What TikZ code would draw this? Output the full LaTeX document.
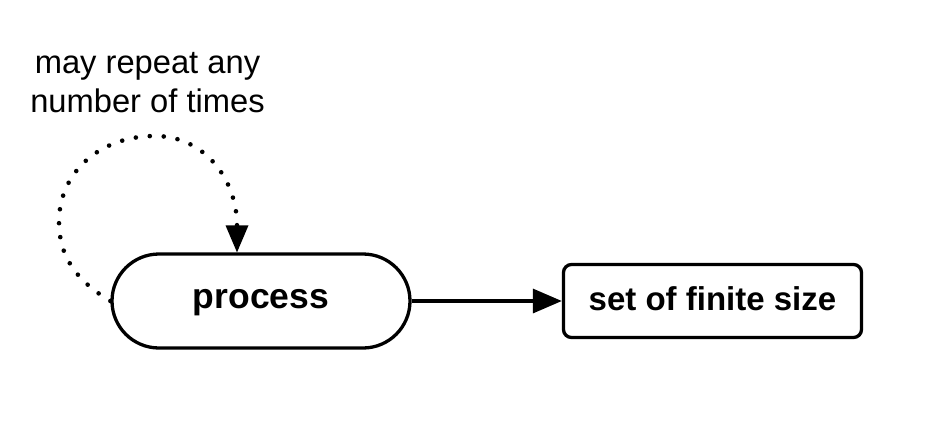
\documentclass[tikz,border=0pt]{standalone}
\usepackage{fontspec}
\setmainfont{Liberation Sans}
\usetikzlibrary{arrows.meta}
\tikzset{
  stadium/.style={draw, line width=3.3pt, rounded corners=47pt, minimum width=298pt, minimum height=94pt, inner sep=0pt,
    font=\fontsize{35.5}{40}\selectfont\bfseries, text height=23pt, text depth=8pt},
  setbox/.style={draw, line width=3.3pt, rounded corners=8pt, minimum width=298pt, minimum height=73pt, inner sep=0pt,
    font=\fontsize{33}{40}\selectfont\bfseries, text height=24pt, text depth=6pt},
  note/.style={align=center, inner sep=0pt, font=\fontsize{32.7}{38.5}\selectfont},
  flow/.style={line width=3.3pt, -{Triangle[length=29pt, width=24pt]}},
  loop/.style={line width=4.6pt, line cap=round, dash pattern=on 0pt off 14pt, -{Triangle[length=27pt, width=23pt, line width=0pt]}}
}
\begin{document}
\begin{tikzpicture}[x=1pt, y=-1pt]
  \useasboundingbox (0,0) rectangle (938,424);
  \node[stadium] (proc) at (261,301) {process};
  \node[setbox] (fin) at (712.5,301) {set of finite size};
  \node[note] (lbl) at (147.5,82.5) {may repeat any\\number of times};
  \coordinate (looptip) at ([xshift=-24pt]proc.north);
  \draw[flow] (proc.east) -- (fin.west);
  \draw[loop] (proc.west) .. controls (75,280) and (59,255) .. (59,222)
    .. controls (59,172) and (100,136) .. (155,136)
    .. controls (205,136) and (237,180) .. (looptip);
\end{tikzpicture}
\end{document}
